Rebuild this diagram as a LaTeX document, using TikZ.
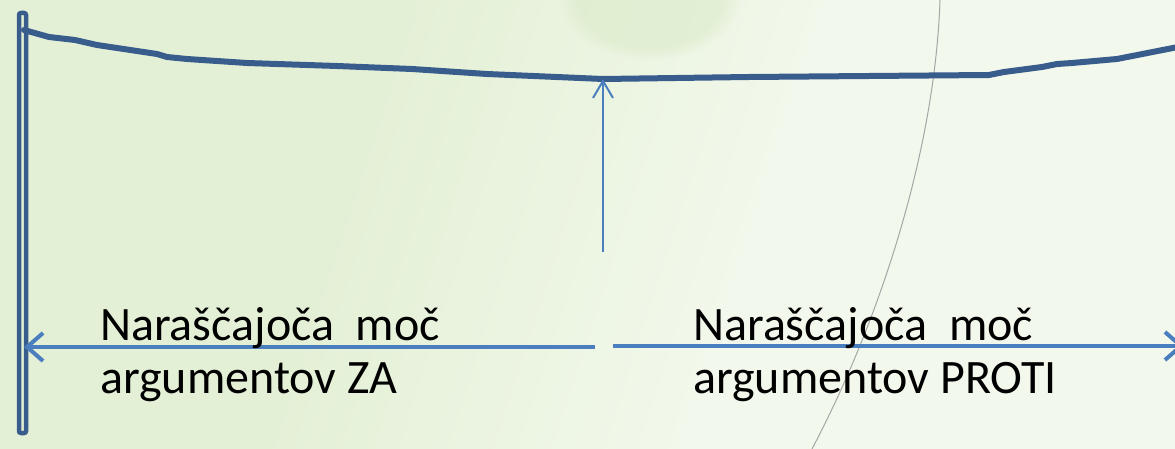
\documentclass[tikz,border=0pt]{standalone}
\usepackage{fontspec}
\setmainfont{Carlito}
\usetikzlibrary{arrows.meta,fadings}
\definecolor{bgleft}{RGB}{228,240,214}
\definecolor{bgright}{RGB}{242,248,235}
\definecolor{bgblob}{RGB}{216,233,197}
\definecolor{rope}{RGB}{56,92,140}
\definecolor{arr}{RGB}{74,126,190}
\pgfdeclarehorizontalshading{bgshade}{100bp}{color(0bp)=(bgleft); color(38bp)=(bgleft); color(58bp)=(bgright); color(100bp)=(bgright)}
\tikzset{
  lbl/.style = {inner sep=0pt, align=left, anchor=base west, font=\fontsize{48}{53}\selectfont},
  pole/.style = {draw=rope, line width=4.5pt, rounded corners=2pt},
  ropeline/.style = {draw=rope, line width=6pt, line join=round, line cap=round},
  pusharrow/.style = {draw=arr, line width=#1, -{Straight Barb[length=16pt,width=28pt]}},
}

\begin{document}
\begin{tikzpicture}[x=1pt, y=-1pt]
  \useasboundingbox (0,0) rectangle (1175,449);
  \shade[shading=bgshade, shading angle=-18] (0,0) rectangle (1175,449);
  \fill[bgblob, opacity=.5, path fading=circle with fuzzy edge 20 percent] (650,0) ellipse [x radius=90, y radius=60];
  \draw[gray!70, line width=1pt] (940,0) .. controls (935,150) and (880,320) .. (812,449);
  \path[pole] (19,13) rectangle (26,433);
  \coordinate (ropeL) at (24,30);
  \coordinate (ropeR) at (1178,47);
  \coordinate (mid) at (603,79);
  \draw[ropeline] (ropeL) -- (49,37) -- (75,40) -- (97,45) -- (157,54) -- (167,57) -- (187,59)
    -- (247,63) -- (337,66) -- (412,69) -- (487,74) -- (mid) -- (749,77) -- (989,75)
    -- (1004,72) -- (1042,67) -- (1057,64) -- (1072,63) -- (1117,59) -- (ropeR);
  \coordinate (push) at (603,252);
  \draw[pusharrow=2pt, -{Straight Barb[length=17pt,width=20pt]}] (push) -- (mid);
  \coordinate (gapL) at (595,347);
  \coordinate (gapR) at (613,346);
  \coordinate (za) at (24,347);
  \coordinate (proti) at (1184,346);
  \draw[pusharrow=4pt] (gapL) -- (za);
  \draw[pusharrow=4pt] (gapR) -- (proti);
  \node[lbl] (zaText) at (100,393) {Naraščajoča\ \ moč\\argumentov ZA};
  \node[lbl] (protiText) at (693,393) {Naraščajoča\ \ moč\\argumentov PROTI};
\end{tikzpicture}
\end{document}
